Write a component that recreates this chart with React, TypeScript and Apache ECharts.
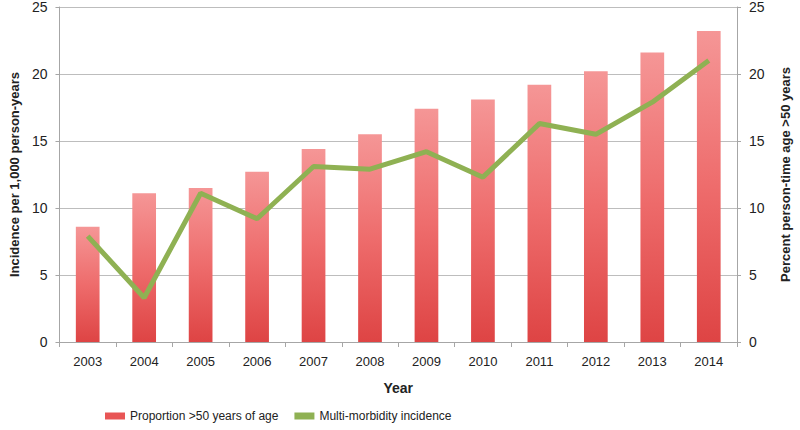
import React, { useEffect, useRef } from "react";
import * as echarts from "echarts";

const years = ["2003", "2004", "2005", "2006", "2007", "2008", "2009", "2010", "2011", "2012", "2013", "2014"];
const proportionOver50 = [8.6, 11.1, 11.5, 12.7, 14.4, 15.5, 17.4, 18.1, 19.2, 20.2, 21.6, 23.2];
const multimorbidityIncidence = [7.9, 3.3, 11.1, 9.2, 13.1, 12.9, 14.2, 12.3, 16.3, 15.5, 17.9, 21.0];
const axisTicks = { min: 0, max: 25, interval: 5 };

export default function App() {
  const ref = useRef<HTMLDivElement>(null);
  useEffect(() => {
    if (!ref.current) return;
    const chart = echarts.init(ref.current, undefined, { renderer: "svg" });
    const axisColor = "#a6a6a6";
    const textColor = "#222";
    const font = "Liberation Sans, Arial, sans-serif";
    const yCommon = {
      type: "value" as const,
      min: axisTicks.min,
      max: axisTicks.max,
      interval: axisTicks.interval,
      nameLocation: "middle" as const,
      nameTextStyle: { fontFamily: font, fontWeight: "bold" as const, fontSize: 13, color: textColor },
      axisLine: { show: true, lineStyle: { color: axisColor, width: 1 } },
      axisTick: { show: true, length: 4, lineStyle: { color: axisColor } },
      axisLabel: { fontFamily: font, fontSize: 14, color: textColor, margin: 12 },
    };
    chart.setOption({
      animation: false,
      backgroundColor: "#fff",
      grid: { left: 57, right: 58, top: 5, bottom: 88 },
      legend: {
        bottom: 3,
        left: 100,
        itemWidth: 20,
        itemHeight: 7,
        itemGap: 16,
        textStyle: { fontFamily: font, fontSize: 12, color: textColor },
        data: [
          { name: "Proportion >50 years of age", icon: "rect", itemStyle: { color: "#e85555" } },
          { name: "Multi-morbidity incidence", icon: "rect", itemStyle: { color: "#8fb153" } },
        ],
      },
      xAxis: {
        type: "category",
        data: years,
        name: "Year",
        nameLocation: "middle",
        nameGap: 39,
        nameTextStyle: { fontFamily: font, fontWeight: "bold", fontSize: 14, color: textColor },
        axisLine: { lineStyle: { color: axisColor } },
        axisTick: { show: true, length: 5, lineStyle: { color: axisColor } },
        axisLabel: { fontFamily: font, fontSize: 13, color: textColor, margin: 13 },
      },
      yAxis: [
        {
          ...yCommon,
          position: "left",
          name: "Incidence per 1,000 person-years",
          nameGap: 37,
          splitLine: { show: true, lineStyle: { color: "#bdbdbd", width: 1 } },
        },
        {
          ...yCommon,
          position: "right",
          name: "Percent person-time age >50 years",
          nameGap: 42,
          nameRotate: 90,
          splitLine: { show: false },
        },
      ],
      series: [
        {
          name: "Proportion >50 years of age",
          type: "bar",
          yAxisIndex: 1,
          barWidth: "42%",
          data: proportionOver50,
          itemStyle: {
            color: new echarts.graphic.LinearGradient(0, 0, 0, 1, [
              { offset: 0, color: "#f59696" },
              { offset: 0.5, color: "#ee6c6c" },
              { offset: 1, color: "#de4444" },
            ]),
          },
        },
        {
          name: "Multi-morbidity incidence",
          type: "line",
          yAxisIndex: 0,
          data: multimorbidityIncidence,
          symbol: "none",
          lineStyle: { color: "#8fb153", width: 5 },
          itemStyle: { color: "#8fb153" },
        },
      ],
    });
    return () => chart.dispose();
  }, []);
  return <div ref={ref} style={{ position: "fixed", left: 0, top: 0, width: 800, height: 430 }} />;
}
